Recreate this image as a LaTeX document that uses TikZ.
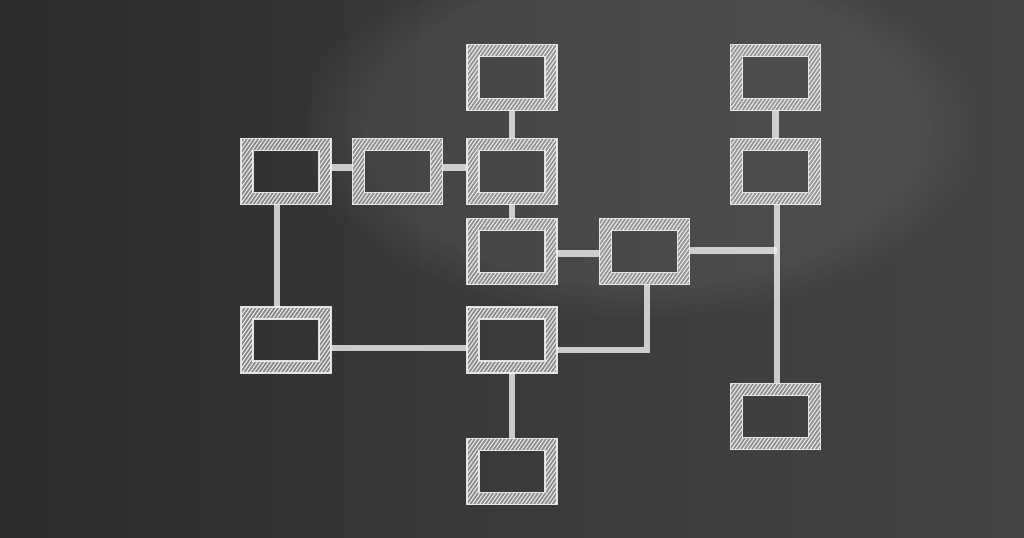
\documentclass[tikz,border=0pt]{standalone}
\usetikzlibrary{patterns.meta,fadings}
\definecolor{boardL}{HTML}{2C2C2C}
\definecolor{boardM}{HTML}{3A3A3A}
\definecolor{boardR}{HTML}{444444}
\definecolor{chalk}{HTML}{F0F0F0}
\begin{document}
\begin{tikzpicture}[x=0.75pt,y=-0.75pt,
  box/.style={rectangle, draw=none, minimum width=67.5pt, minimum height=49.5pt, inner sep=0pt, outer sep=0pt},
  wire/.style={draw=chalk, line width=5pt, opacity=0.8, line cap=butt},
  band/.style={fill=chalk, fill opacity=0.45, even odd rule},
  hatch/.style={pattern={Lines[angle=55,distance=2.3pt,line width=0.75pt]}, pattern color=chalk, even odd rule},
  edge/.style={draw=chalk, line width=0.9pt, opacity=0.9}]
\useasboundingbox (0,0) rectangle (1024,537);
\fill[left color=boardL, right color=boardR, middle color=boardM] (0,0) rectangle (1024,537);
\begin{scope}
  \clip (0,0) rectangle (1024,537);
  \fill[white, opacity=0.07, path fading=circle with fuzzy edge 20 percent] (640,130) ellipse (340 and 190);
\end{scope}
% boxes
\node[box] (t1) at (512,77.5) {};
\node[box] (t2) at (775.5,77.5) {};
\node[box] (a) at (286,171.5) {};
\node[box] (b) at (397.5,171.5) {};
\node[box] (c) at (512,171.5) {};
\node[box] (d) at (775.5,171.5) {};
\node[box] (e) at (512,251.5) {};
\node[box] (f) at (644.5,251.5) {};
\node[box] (g) at (286,340) {};
\node[box] (h) at (512,340) {};
\node[box] (i) at (775.5,416.5) {};
\node[box] (j) at (512,471.5) {};
% connectors
\draw[wire] (t1.south) -- (c.north);
\draw[wire] (t2.south) -- (d.north);
\draw[wire] ([shift={(0,-4)}]a.east) -- ([shift={(0,-4)}]b.west);
\draw[wire] ([shift={(0,-4)}]b.east) -- ([shift={(0,-4)}]c.west);
\draw[wire] (c.south) -- (e.north);
\draw[wire] ([shift={(-9,0)}]a.south) -- ([shift={(-9,0)}]g.north);
\draw[wire] ([shift={(0,2)}]e.east) -- ([shift={(0,2)}]f.west);
\draw[wire] ([shift={(1.5,0)}]d.south) -- ([shift={(1.5,0)}]i.north);
\coordinate (rj) at ([shift={(1.5,0)}]d.south);
\draw[wire] ([shift={(0,-1)}]f.east) -- ([shift={(0,-1)}]f.east -| rj);
\coordinate (fc) at ([shift={(2.5,10)}]f.south |- h.east);
\draw[wire] ([shift={(2.5,0)}]f.south) -- (fc) -- (fc -| h.east);
\draw[wire] ([shift={(0,8)}]g.east) -- ([shift={(0,8)}]h.west);
\draw[wire] (h.south) -- (j.north);
% chalk rectangles
\foreach \n in {t1,t2,a,b,c,d,e,f,g,h,i,j}{
  \path[band] (\n.north west) rectangle (\n.south east)
    ([shift={(12,12)}]\n.north west) rectangle ([shift={(-12,-12)}]\n.south east);
  \path[hatch] (\n.north west) rectangle (\n.south east)
    ([shift={(12,12)}]\n.north west) rectangle ([shift={(-12,-12)}]\n.south east);
  \draw[edge] (\n.north west) rectangle (\n.south east)
    ([shift={(12,12)}]\n.north west) rectangle ([shift={(-12,-12)}]\n.south east);
}
\end{tikzpicture}
\end{document}
